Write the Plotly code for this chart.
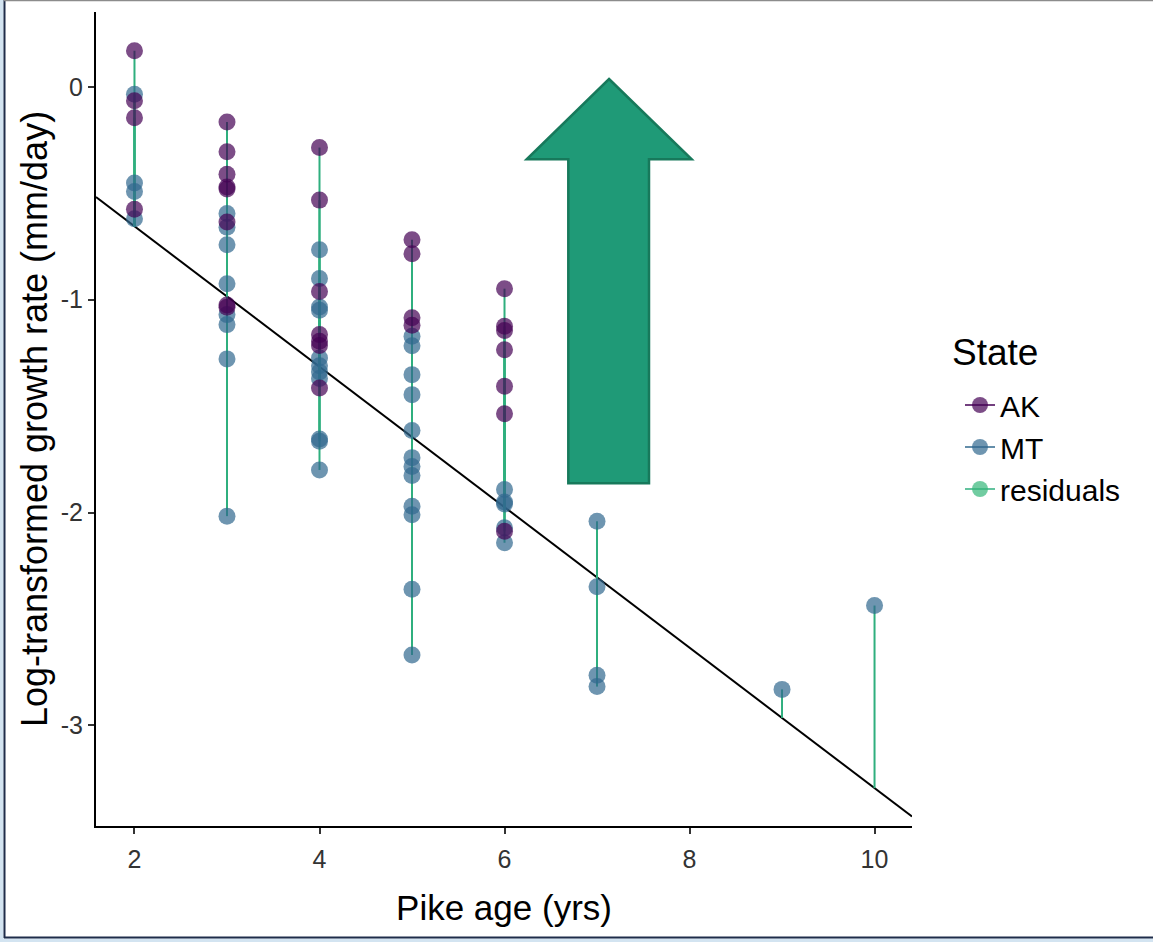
import plotly.graph_objects as go

# ---------------- data ----------------
ak_age = [2, 2, 2, 2,
          3, 3, 3, 3, 3, 3, 3, 3,
          4, 4, 4, 4, 4, 4, 4,
          5, 5, 5, 5,
          6, 6, 6, 6, 6, 6, 6]
ak_rate = [0.17, -0.065, -0.145, -0.575,
           -0.165, -0.305, -0.41, -0.47, -0.48, -0.635, -1.025, -1.035,
           -0.285, -0.532, -0.961, -1.164, -1.195, -1.215, -1.415,
           -0.718, -0.784, -1.085, -1.12,
           -0.948, -1.125, -1.145, -1.235, -1.407, -1.536, -2.088]

mt_age = [2, 2, 2, 2,
          3, 3, 3, 3, 3, 3, 3, 3,
          4, 4, 4, 4, 4, 4, 4, 4, 4, 4, 4,
          5, 5, 5, 5, 5, 5, 5, 5, 5, 5, 5, 5,
          6, 6, 6, 6, 6,
          7, 7, 7, 7,
          9, 10]
mt_rate = [-0.035, -0.452, -0.492, -0.62,
           -0.595, -0.66, -0.742, -0.925, -1.07, -1.117, -1.278, -2.017,
           -0.765, -0.9, -1.034, -1.05, -1.274, -1.31, -1.34, -1.37, -1.655, -1.665, -1.80,
           -1.172, -1.216, -1.352, -1.446, -1.615, -1.742, -1.784, -1.826, -1.97, -2.01, -2.36, -2.67,
           -1.892, -1.95, -1.96, -2.072, -2.142,
           -2.041, -2.349, -2.765, -2.818,
           -2.831, -2.437]

fit_intercept = 0.005
fit_slope = -0.33

x_ticks = [2, 4, 6, 8, 10]
y_ticks = [0, -1, -2, -3]
y_tick_labels = ["0", "-1", "-2", "-3"]

# ---------------- styling ----------------
W, H = 1153, 942
PL, PR, PT, PB = 96, 912, 12, 826
X_RANGE = [1.584, 10.405]
Y_RANGE = [-3.473, 0.352]

C_AK = "#440154"
C_MT = "#31688E"
C_RES = "#2FAF7E"
A_AK = "rgba(68,1,84,0.7)"
A_MT = "rgba(49,104,142,0.7)"
A_RES = "rgba(53,183,121,0.7)"
FONT = "Liberation Sans, Arial, sans-serif"


def fitted(x):
    return fit_intercept + fit_slope * x


# residual segments
res_x, res_y = [], []
for xs, ys in ((ak_age, ak_rate), (mt_age, mt_rate)):
    for x, y in zip(xs, ys):
        res_x += [x, x, None]
        res_y += [y, fitted(x), None]

fig = go.Figure()

fig.add_trace(go.Scatter(x=X_RANGE, y=[fitted(v) for v in X_RANGE], mode="lines",
                         line=dict(color="black", width=2), showlegend=False,
                         hoverinfo="skip"))
fig.add_trace(go.Scatter(x=res_x, y=res_y, mode="lines",
                         line=dict(color=C_RES, width=2), showlegend=False))
fig.add_trace(go.Scatter(x=mt_age, y=mt_rate, mode="markers",
                         marker=dict(color=A_MT, size=17, line=dict(width=0)),
                         showlegend=False, name="MT"))
fig.add_trace(go.Scatter(x=ak_age, y=ak_rate, mode="markers",
                         marker=dict(color=A_AK, size=17, line=dict(width=0)),
                         showlegend=False, name="AK"))

for name, lc, mc in (("AK", C_AK, A_AK), ("MT", C_MT, A_MT), ("residuals", C_RES, A_RES)):
    fig.add_trace(go.Scatter(x=[None], y=[None], mode="lines+markers", name=name,
                             line=dict(color=lc, width=1.5),
                             marker=dict(color=mc, size=17, line=dict(width=0))))


def px(xp):
    return (xp - PL) / (PR - PL)


def py(yp):
    return (PB - yp) / (PB - PT)


arrow_pts = [(609, 79), (691.7, 159.3), (649, 159.3), (649, 483.3),
             (568.3, 483.3), (568.3, 159.3), (526.7, 159.3)]
path = "M " + " L ".join(f"{px(a):.4f},{py(b):.4f}" for a, b in arrow_pts) + " Z"

shapes = [
    dict(type="path", xref="paper", yref="paper", path=path,
         fillcolor="#1F9A77", line=dict(color="#17795B", width=2.5), layer="above"),
    dict(type="rect", xref="paper", yref="paper", x0=px(0), x1=px(3.5), y0=py(942), y1=py(0),
         fillcolor="#D3E4F1", line=dict(width=0)),
    dict(type="rect", xref="paper", yref="paper", x0=px(0), x1=px(W), y0=py(942), y1=py(938.5),
         fillcolor="#D3E4F1", line=dict(width=0)),
    dict(type="line", xref="paper", yref="paper", x0=px(4.5), x1=px(4.5), y0=py(938), y1=py(0),
         line=dict(color="#1F2D4A", width=2)),
    dict(type="line", xref="paper", yref="paper", x0=px(4), x1=px(W), y0=py(937.5), y1=py(937.5),
         line=dict(color="#1F2D4A", width=2)),
    dict(type="line", xref="paper", yref="paper", x0=px(4), x1=px(W), y0=py(0.5), y1=py(0.5),
         line=dict(color="#8C8C8C", width=1.5)),
]

annotations = [
    dict(text="State", xref="paper", yref="paper", x=px(950), y=py(352),
         xanchor="left", yanchor="middle", showarrow=False,
         font=dict(size=37, family=FONT, color="black")),
]

fig.update_layout(
    width=W, height=H,
    margin=dict(l=PL, r=W - PR, t=PT, b=H - PB, pad=0),
    paper_bgcolor="white", plot_bgcolor="white",
    font=dict(family=FONT, color="black"),
    shapes=shapes,
    annotations=annotations,
    legend=dict(x=px(960), y=py(447), xanchor="left", yanchor="middle",
                font=dict(size=30, family=FONT, color="black"),
                itemwidth=30),
    xaxis=dict(range=X_RANGE, tickvals=x_ticks, ticktext=[str(v) for v in x_ticks],
               showgrid=False, zeroline=False, showline=True, linecolor="black", linewidth=2,
               ticks="outside", ticklen=6, tickwidth=1.5, tickcolor="#333333",
               ticklabelstandoff=4,
               tickfont=dict(size=25, color="#333333", family=FONT),
               title=dict(text="Pike age (yrs)", font=dict(size=35, family=FONT, color="black"),
                          standoff=23)),
    yaxis=dict(range=Y_RANGE, tickvals=y_ticks, ticktext=y_tick_labels,
               showgrid=False, zeroline=False, showline=True, linecolor="black", linewidth=2,
               ticks="outside", ticklen=6, tickwidth=1.5, tickcolor="#333333",
               tickfont=dict(size=25, color="#333333", family=FONT),
               title=dict(text="Log-transformed growth rate (mm/day)",
                          font=dict(size=36, family=FONT, color="black"), standoff=2)),
)

fig.write_html("out.html", config={"displayModeBar": False},
               post_script="document.body.style.margin='0px';")
